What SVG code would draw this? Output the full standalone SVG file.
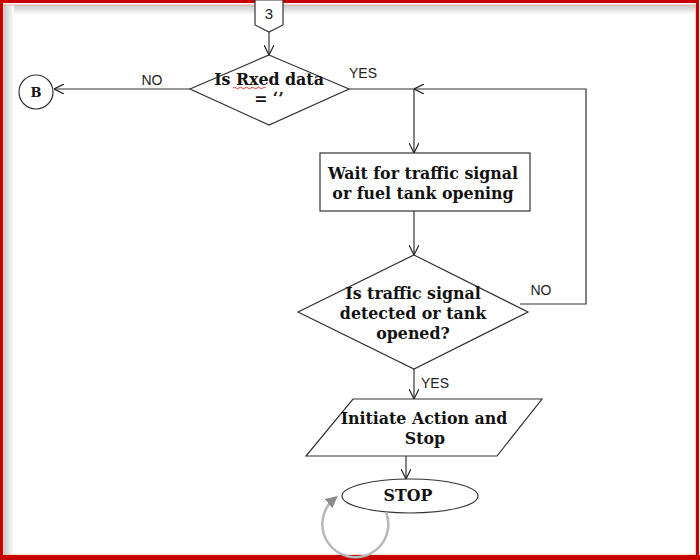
<svg xmlns="http://www.w3.org/2000/svg" width="700" height="560" viewBox="0 0 700 560">
<defs>
<marker id="arr" viewBox="0 0 10 10" refX="10" refY="5" markerWidth="10" markerHeight="10" markerUnits="userSpaceOnUse" orient="auto">
<path d="M0,0 L10,5 L0,10" fill="none" stroke="#222" stroke-width="1.2"/>
</marker>
<marker id="garr" viewBox="0 0 10 10" refX="6" refY="5" markerWidth="12" markerHeight="12" markerUnits="userSpaceOnUse" orient="auto">
<path d="M0,0 L10,5 L0,10 Z" fill="#8a8a8a"/>
</marker>
<linearGradient id="shT" x1="0" y1="0" x2="0" y2="1">
<stop offset="0" stop-color="#c8c8c8"/><stop offset="1" stop-color="#ffffff"/>
</linearGradient>
<linearGradient id="shL" x1="0" y1="0" x2="1" y2="0">
<stop offset="0" stop-color="#c8c8c8"/><stop offset="1" stop-color="#ffffff"/>
</linearGradient>
</defs>
<style>
.shape{fill:#fff;stroke:#333;stroke-width:1.2}
.conn{fill:none;stroke:#333;stroke-width:1.2}
.t{font-family:"DejaVu Serif","Liberation Serif",serif;font-weight:bold;font-size:15.8px;fill:#111;text-anchor:middle}
.lbl{font-family:"Liberation Sans",Arial,sans-serif;font-size:14px;fill:#222;text-anchor:middle}
</style>
<rect x="0" y="0" width="700" height="560" fill="#fff"/>
<g id="frame">
<rect x="4" y="5" width="692" height="10" fill="url(#shT)"/>
<rect x="4" y="5" width="10" height="550" fill="url(#shL)"/>
<rect x="4" y="5" width="692" height="550" fill="none" stroke="#f0b0a0" stroke-width="1"/>
<rect x="1.5" y="1.5" width="696" height="556" fill="none" stroke="#c80000" stroke-width="3"/>
<rect x="0" y="555" width="700" height="5" fill="#c80000"/>
</g>
<g id="n_3">
<path class="shape" d="M255,0 L283,0 L283,25 L269,32 L255,25 Z"/>
<text x="269" y="19" class="lbl" style="font-size:15px">3</text>
</g>
<g id="n_d1">
<path class="shape" d="M269,55 L349,89 L269,125 L190,89 Z"/>
<text x="269" y="85" class="t">Is Rxed data</text>
<text x="269" y="104" class="t">= ‘’</text>
<path d="M233,88 q1.5,-1.5 3,0 t3,0 t3,0 t3,0 t3,0 t3,0 t3,0 t3,0 t3,0 t3,0 t3,0" fill="none" stroke="#e02020" stroke-width="0.9"/>
</g>
<g id="n_B">
<circle class="shape" cx="36" cy="92" r="17"/>
<text x="36" y="97" class="t" style="font-size:13px">B</text>
</g>
<g id="n_wait">
<rect class="shape" x="320" y="153" width="210" height="58"/>
<text x="423" y="179" class="t">Wait for traffic signal</text>
<text x="423" y="199" class="t">or fuel tank opening</text>
</g>
<g id="n_d2">
<path class="shape" d="M414,255 L528,312 L414,369 L298,312 Z"/>
<text x="413" y="299" class="t">Is traffic signal</text>
<text x="413" y="319" class="t">detected or tank</text>
<text x="413" y="339" class="t">opened?</text>
</g>
<g id="n_action">
<path class="shape" d="M353,399 L542,399 L497,456 L306,456 Z"/>
<text x="424" y="424" class="t">Initiate Action and</text>
<text x="425" y="444" class="t">Stop</text>
</g>
<g id="n_stop">
<ellipse class="shape" cx="410" cy="496" rx="68" ry="17"/>
<text x="408" y="501" class="t">STOP</text>
</g>
<g id="connectors">
<path class="conn" d="M269,32 L269,55" marker-end="url(#arr)"/>
<path class="conn" d="M190,89 L54,89" marker-end="url(#arr)"/>
<path class="conn" d="M349,89 L414,89 L414,153" marker-end="url(#arr)"/>
<path class="conn" d="M414,211 L414,255" marker-end="url(#arr)"/>
<path class="conn" d="M520,304 L586,304 L586,89 L414,89" marker-end="url(#arr)"/>
<path class="conn" d="M414,369 L414,399" marker-end="url(#arr)"/>
<path class="conn" d="M406,456 L406,479" marker-end="url(#arr)"/>
<path d="M386,512 A33,33 0 1 1 334,499" fill="none" stroke="#b8b8b8" stroke-width="2.5" marker-end="url(#garr)"/>
<text x="152" y="85" class="lbl">NO</text>
<text x="363" y="78" class="lbl">YES</text>
<text x="541" y="295" class="lbl">NO</text>
<text x="435" y="388" class="lbl">YES</text>
</g>
</svg>
